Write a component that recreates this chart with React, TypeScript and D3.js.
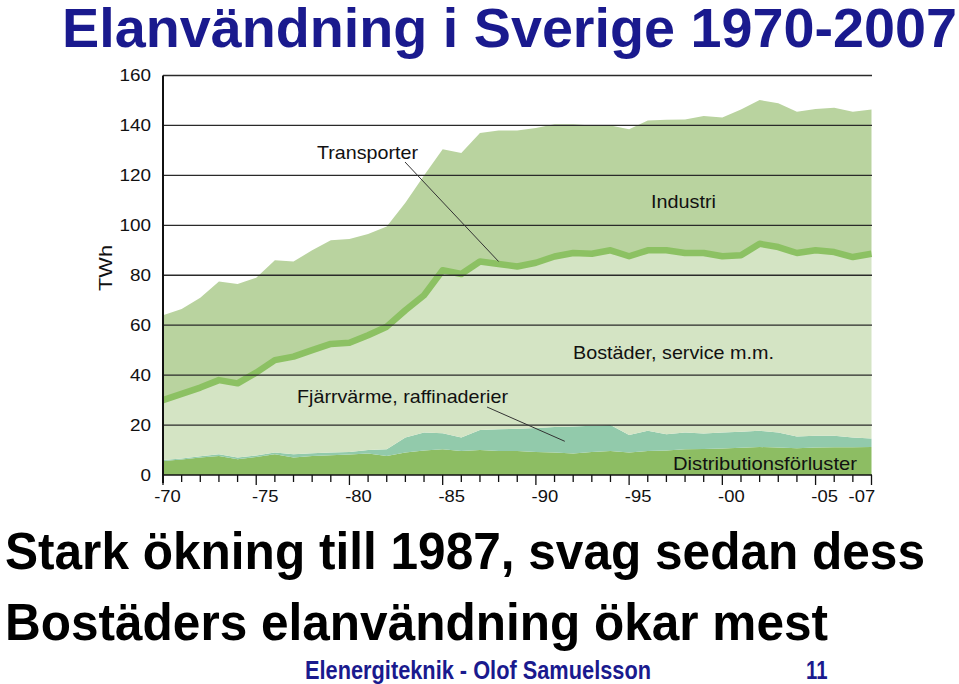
import React from "react";
import * as d3 from "d3";

const years = d3.range(1970, 2009);
// TWh per layer (1970..2008)
const distribution = [5.6, 6.2, 7.0, 7.6, 6.3, 7.2, 8.3, 7.0, 7.6, 7.9, 8.2, 8.6, 7.6, 9.0, 9.8, 10.3, 9.6, 10.0, 9.6, 9.6, 9.2, 9.0, 8.6, 9.2, 9.6, 9.0, 9.6, 9.8, 10.3, 10.4, 10.6, 10.9, 11.2, 11.0, 10.7, 11.0, 11.1, 11.1, 11.2];
const fjarrvarme = [0.4, 0.4, 0.5, 0.7, 0.7, 0.6, 0.7, 1.3, 1.1, 1.1, 1.0, 1.4, 2.7, 6.0, 7.2, 6.4, 5.4, 8.0, 8.7, 8.9, 9.6, 10.2, 10.8, 10.5, 10.4, 7.0, 8.1, 6.5, 6.7, 6.2, 6.4, 6.4, 6.5, 6.0, 4.7, 4.7, 4.6, 3.9, 3.4];
const bostader = [24.0, 25.9, 27.5, 29.7, 29.7, 33.2, 37.0, 39.1, 41.3, 43.5, 43.8, 46.0, 49.1, 51.0, 55.0, 65.3, 65.5, 67.5, 66.2, 65.0, 66.2, 68.3, 69.5, 68.9, 70.0, 71.6, 72.3, 73.7, 71.9, 72.3, 70.6, 70.7, 74.9, 74.3, 73.5, 74.3, 73.6, 72.3, 74.0];
const industri = [34.0, 34.0, 36.0, 39.5, 39.8, 38.0, 40.0, 38.1, 40.0, 41.5, 41.5, 40.5, 40.1, 43.0, 48.0, 48.5, 48.5, 51.5, 53.5, 54.5, 54.0, 53.0, 51.6, 51.4, 50.0, 50.9, 52.0, 52.3, 53.5, 54.9, 55.6, 58.4, 57.6, 57.6, 56.6, 56.6, 57.8, 58.2, 57.8];

const yTicks = [0, 20, 40, 60, 80, 100, 120, 140, 160];
const xLabelYears = [1970, 1975, 1980, 1985, 1990, 1995, 2000, 2005, 2007];
const xLabels = ["-70", "-75", "-80", "-85", "-90", "-95", "-00", "-05", "-07"];

const keys = ["dist", "fjarr", "bost", "ind"];
const colors: Record<string, string> = {
  dist: "#8dbd63",
  fjarr: "#92caab",
  bost: "#d4e4c4",
  ind: "#b9d39f",
};

export default function App() {
  const x = d3.scaleLinear().domain([1970, 2008]).range([163, 871.5]);
  const y = d3.scaleLinear().domain([0, 160]).range([475, 75.5]);

  const rows = years.map((yr, i) => ({
    year: yr,
    dist: distribution[i],
    fjarr: fjarrvarme[i],
    bost: bostader[i],
    ind: industri[i],
  }));
  const stack = d3.stack<any>().keys(keys)(rows);
  const area = d3
    .area<any>()
    .x((d) => x(d.data.year))
    .y0((d) => y(d[0]))
    .y1((d) => y(d[1]));
  const bostLayer = stack[2];
  const line = d3
    .line<any>()
    .x((d) => x(d.data.year))
    .y((d) => y(d[1]));

  const font = "'Liberation Sans', Arial, Helvetica, sans-serif";
  const i88 = years.indexOf(1988);

  return (
    <svg
      width={959}
      height={684}
      style={{ position: "absolute", left: 0, top: 0, background: "#fff" }}
      fontFamily={font}
    >
      <rect width={959} height={684} fill="#fff" />
      {/* Title */}
      <text x={62} y={47} fontSize={56} fontWeight="bold" fill="#1a1a8e" textLength={895} lengthAdjust="spacingAndGlyphs">
        Elanvändning i Sverige 1970-2007
      </text>

      {/* areas */}
      {stack.map((s) => (
        <path key={s.key} d={area(s) || ""} fill={colors[s.key]} />
      ))}
      {/* Transporter line */}
      <path d={line(bostLayer) || ""} fill="none" stroke="#8cc163" strokeWidth={6.5} strokeLinejoin="round" />

      {/* gridlines */}
      {yTicks.filter((t) => t > 0).map((t) => (
        <line key={t} x1={163} x2={872} y1={y(t)} y2={y(t)} stroke="#2a2a2a" strokeWidth={1.3} />
      ))}

      {/* axes */}
      <line x1={163} x2={872} y1={y(0)} y2={y(0)} stroke="#111" strokeWidth={1.6} />
      <line x1={163} x2={163} y1={y(160)} y2={y(0) + 8} stroke="#111" strokeWidth={2} />
      {years.map((yr) => {
        const long = yr % 5 === 0 || yr === 2008;
        return (
          <line key={yr} x1={x(yr)} x2={x(yr)} y1={y(0)} y2={y(0) + (long ? 10 : 7)} stroke="#111" strokeWidth={1.3} />
        );
      })}

      {/* y tick labels */}
      {yTicks.map((t) => (
        <text key={t} transform={`translate(151,${y(t) + 5.5}) scale(1.18,1)`} textAnchor="end" fontSize={16} fill="#111">
          {t}
        </text>
      ))}
      {/* x tick labels */}
      {xLabelYears.map((yr, i) => (
        <text
          key={yr}
          transform={`translate(${x(yr) + (i === 0 ? 4.5 : 9)},${y(0) + 26.5}) scale(1.15,1)`}
          textAnchor="middle"
          fontSize={16}
          fill="#111"
        >
          {xLabels[i]}
        </text>
      ))}
      {/* y axis title */}
      <text transform="translate(112,268) rotate(-90)" textAnchor="middle" fontSize={18} fill="#111" textLength={46} lengthAdjust="spacingAndGlyphs">
        TWh
      </text>

      {/* annotations */}
      <line x1={405} y1={162} x2={x(1988)} y2={y(bostader[i88] + fjarrvarme[i88] + distribution[i88] + 1)} stroke="#333" strokeWidth={1} />
      <line x1={487} y1={407} x2={x(1991.55)} y2={y(13.5)} stroke="#333" strokeWidth={1} />

      <text x={317} y={159} fontSize={19} fill="#111" textLength={101} lengthAdjust="spacingAndGlyphs">Transporter</text>
      <text x={651} y={207.5} fontSize={19} fill="#111" textLength={65} lengthAdjust="spacingAndGlyphs">Industri</text>
      <text x={573} y={359} fontSize={19} fill="#111" textLength={201} lengthAdjust="spacingAndGlyphs">Bostäder, service m.m.</text>
      <text x={297} y={403} fontSize={19} fill="#111" textLength={211} lengthAdjust="spacingAndGlyphs">Fjärrvärme, raffinaderier</text>
      <text x={673} y={470} fontSize={19} fill="#111" textLength={184} lengthAdjust="spacingAndGlyphs">Distributionsförluster</text>

      {/* bullets text */}
      <text x={5} y={569} fontSize={52} fontWeight="bold" fill="#000" textLength={920} lengthAdjust="spacingAndGlyphs">
        Stark ökning till 1987, svag sedan dess
      </text>
      <text x={5} y={640} fontSize={52} fontWeight="bold" fill="#000" textLength={823} lengthAdjust="spacingAndGlyphs">
        Bostäders elanvändning ökar mest
      </text>

      {/* footer */}
      <text x={305} y={678.5} fontSize={26} fontWeight="bold" fill="#1a1a8e" textLength={346} lengthAdjust="spacingAndGlyphs">
        Elenergiteknik - Olof Samuelsson
      </text>
      <text x={806} y={678.5} fontSize={26} fontWeight="bold" fill="#1a1a8e" textLength={21.5} lengthAdjust="spacingAndGlyphs">
        11
      </text>
    </svg>
  );
}
